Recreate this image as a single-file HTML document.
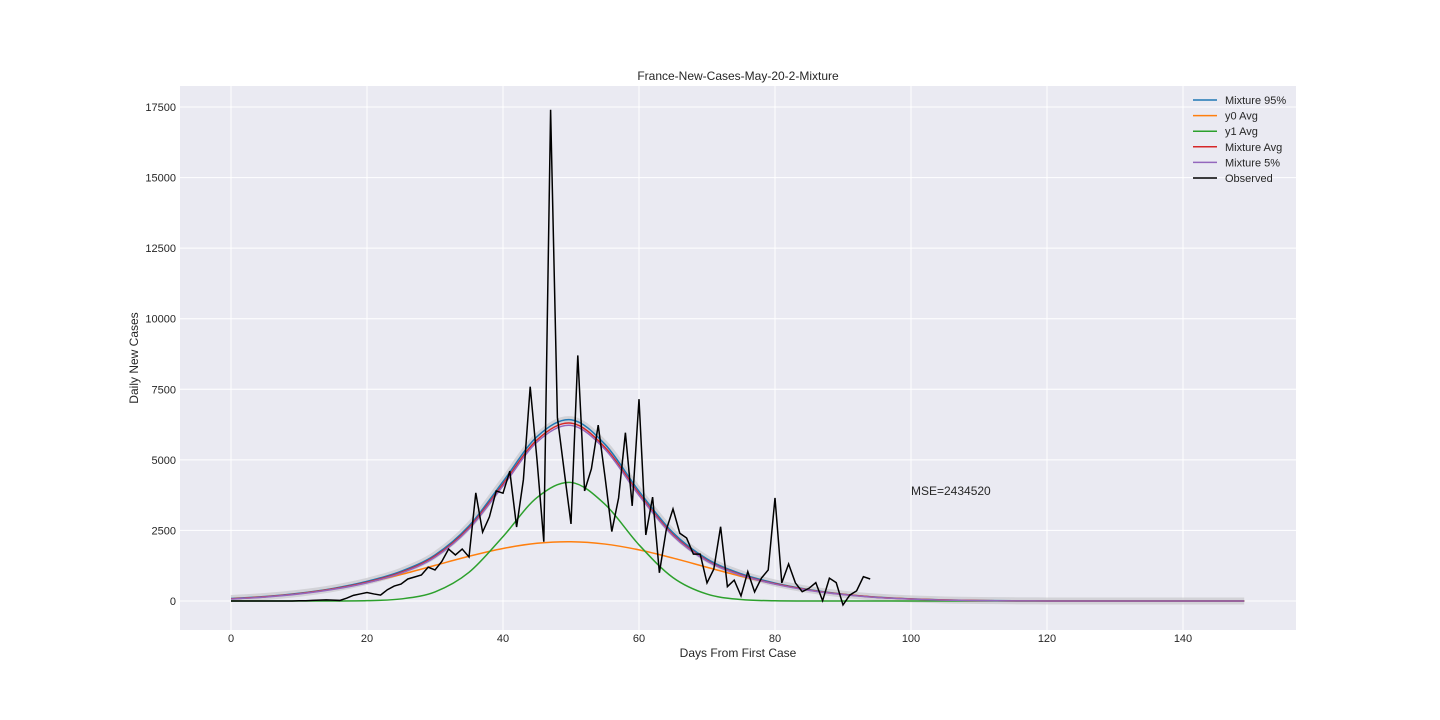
<!DOCTYPE html>
<html><head><meta charset="utf-8">
<style>
html,body{margin:0;padding:0;background:#fff;}
svg{display:block;font-family:"Liberation Sans",sans-serif;}
</style></head>
<body>
<svg id="chart" width="1440" height="720" xmlns="http://www.w3.org/2000/svg"></svg>
<script>
const xTicks=[0,20,40,60,80,100,120,140];
const yTicks=[0,2500,5000,7500,10000,12500,15000,17500];
const fitDays=[0,5,10,15,20,25,30,35,40,45,50,55,60,65,70,75,80,85,90,95,100,105,110,115,120,125,130,135,140,145,149];
const y0Avg=[78,147,259,424,653,938,1261,1584,1860,2044,2100,2017,1811,1521,1195,877,602,387,233,130,69,34,15,6,2,0,0,0,0,0,0];
const y1Avg=[0,0,0,0,12,73,322,1015,2282,3663,4200,3424,1990,829,245,52,8,0,0,0,0,0,0,0,0,0,0,0,0,0,0];
const mixAvg=[78,147,259,424,665,1011,1583,2599,4142,5707,6300,5441,3801,2350,1440,929,610,387,233,130,69,34,15,6,2,1,0,0,0,0,0];
const mix95=[90,160,275,445,695,1050,1630,2660,4230,5820,6420,5550,3890,2420,1490,965,635,405,245,138,74,37,17,7,2,1,0,0,0,0,0];
const mix5=[70,137,248,410,643,985,1550,2555,4080,5630,6220,5370,3745,2310,1415,910,596,377,226,125,66,32,14,5,2,1,0,0,0,0,0];
const observed=[0,0,0,0,0,0,0,0,0,0,10,10,20,30,40,30,20,100,200,250,300,250,210,400,530,600,780,850,920,1200,1100,1400,1840,1630,1840,1560,3830,2440,2980,3900,3820,4600,2620,4300,7590,5000,2100,17400,6500,4600,2730,8700,3900,4680,6230,4400,2460,3650,5960,3370,7150,2340,3680,1000,2510,3260,2400,2230,1660,1660,640,1130,2630,510,740,180,1040,320,810,1100,3650,640,1310,640,330,450,650,10,810,650,-140,210,360,860,780];

const NS="http://www.w3.org/2000/svg";
const svg=document.getElementById('chart');
const L=180,R=1296,T=86,B=630;
const X=d=>231+6.8*d;
const Y=v=>601-v*0.028229;
function el(tag,attrs,parent){const e=document.createElementNS(NS,tag);for(const k in attrs)e.setAttribute(k,attrs[k]);(parent||svg).appendChild(e);return e;}

const bg=el('rect',{x:L,y:T,width:R-L,height:B-T,fill:'#eaeaf2'});



xTicks.forEach(t=>{
  const g=el('line',{x1:X(t),x2:X(t),y1:T,y2:B,stroke:'#fff','stroke-width':1});
  
  
  const tx=el('text',{x:X(t),y:642,'font-size':11,'text-anchor':'middle',fill:'#262626'});
  tx.textContent=t;
  
  
});
yTicks.forEach(t=>{
  const g=el('line',{x1:L,x2:R,y1:Y(t),y2:Y(t),stroke:'#fff','stroke-width':1});
  
  
  const tx=el('text',{x:176,y:Y(t)+4,'font-size':11,'text-anchor':'end',fill:'#262626'});
  tx.textContent=t;
  
  
});

function smoothPath(xs,ys){
  const p=xs.map((d,i)=>[X(d),Y(ys[i])]);
  let s='M'+p[0][0]+','+p[0][1];
  for(let i=0;i<p.length-1;i++){
    const p0=p[i-1]||p[i],p1=p[i],p2=p[i+1],p3=p[i+2]||p2;
    const c1=[p1[0]+(p2[0]-p0[0])/6,p1[1]+(p2[1]-p0[1])/6];
    const c2=[p2[0]-(p3[0]-p1[0])/6,p2[1]-(p3[1]-p1[1])/6];
    s+=' C'+c1[0]+','+c1[1]+' '+c2[0]+','+c2[1]+' '+p2[0]+','+p2[1];
  }
  return s;
}
const clip=el('clipPath',{id:'clip'});el('rect',{x:L,y:T,width:R-L,height:B-T},clip);

// band
const band=el('path',{d:smoothPath(fitDays,mix95),stroke:'#c8c8cc','stroke-width':7,fill:'none','stroke-opacity':0.7,'clip-path':'url(#clip)'});



const series=[
 ['mixture-95-line',mix95,'#1f77b4'],
 ['y0-avg-line',y0Avg,'#ff7f0e'],
 ['y1-avg-line',y1Avg,'#2ca02c'],
 ['mixture-avg-line',mixAvg,'#d62728'],
 ['mixture-5-line',mix5,'#9467bd']
];
series.forEach(s=>{
  const p=el('path',{d:smoothPath(fitDays,s[1]),stroke:s[2],'stroke-width':1.5,fill:'none','clip-path':'url(#clip)'});
  
  
});
const obs=el('polyline',{points:observed.map((v,i)=>X(i)+','+Y(v)).join(' '),stroke:'#000','stroke-width':1.5,fill:'none','stroke-linejoin':'miter'});



const mse=el('text',{x:X(100),y:Y(3900)+4,'font-size':12,fill:'#262626'});
mse.textContent='MSE=2434520';



const title=el('text',{x:738,y:80,'font-size':12,'text-anchor':'middle',fill:'#262626'});
title.textContent='France-New-Cases-May-20-2-Mixture';


const xt=el('text',{x:738,y:657,'font-size':12,'text-anchor':'middle',fill:'#262626'});
xt.textContent='Days From First Case';


const yt=el('text',{x:138,y:358,'font-size':12,'text-anchor':'middle',fill:'#262626',transform:'rotate(-90 138 358)'});
yt.textContent='Daily New Cases';



const legendItems=[['Mixture 95%','#1f77b4'],['y0 Avg','#ff7f0e'],['y1 Avg','#2ca02c'],['Mixture Avg','#d62728'],['Mixture 5%','#9467bd'],['Observed','#000']];
legendItems.forEach((it,i)=>{
  const y=100+i*15.6;
  const g=el('g',{});
  
  
  el('line',{x1:1193,x2:1217,y1:y,y2:y,stroke:it[1],'stroke-width':1.5},g);
  const t=el('text',{x:1225,y:y+4,'font-size':11,fill:'#262626'},g);
  t.textContent=it[0];
});
</script>
</body></html>
